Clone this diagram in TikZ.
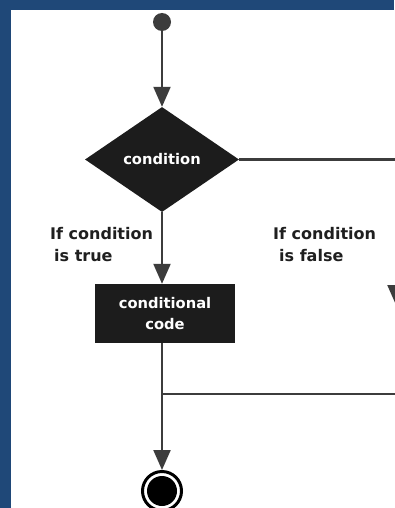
\documentclass[tikz,border=0pt]{standalone}
\usepackage{fontspec}
\setsansfont{DejaVu Sans}
\usetikzlibrary{positioning,shapes.geometric,arrows.meta}
\definecolor{frameblue}{HTML}{1F4878}
\definecolor{linegray}{HTML}{3C3C3C}
\definecolor{boxblack}{HTML}{1C1C1C}

\begin{document}
\begin{tikzpicture}[x=1pt,y=-1pt,
  flowline/.style={draw=linegray, line width=2.2pt},
  flowarrow/.style={flowline, -{Triangle[length=20pt,width=17pt]}},
  innertext/.style={text=white, align=center, font=\sffamily\bfseries\fontsize{14.7}{21}\selectfont},
  branchlabel/.style={anchor=north west, inner sep=0pt, text=black!88, align=left, font=\sffamily\bfseries\fontsize{16}{22.5}\selectfont}]
  \def\mainx{162} % x of the main line
  \def\sidex{396} % x of the false branch (cut by the page edge)
  \useasboundingbox (0,0) rectangle (394,508);
  % frame and sheet
  \fill[frameblue] (0,0) rectangle (394,508);
  \fill[white] (11,10) rectangle (394,508);
  % nodes
  \node[circle, fill=linegray, minimum size=18pt, inner sep=0pt] (start) at (\mainx,22) {};
  \node[diamond, fill=boxblack, minimum width=154pt, minimum height=105pt, inner sep=0pt, innertext] (cond) at (\mainx,159.5) {condition};
  \node[rectangle, fill=boxblack, minimum width=140pt, minimum height=59pt, innertext] (code) at (165,313.5) {conditional\\code};
  \node[circle, draw=black, line width=3pt, minimum size=39pt, inner sep=0pt,
        path picture={\fill[black] (path picture bounding box.center) circle (15pt);}] (stop) at (\mainx,491) {};
  \node[branchlabel] (truelabel) at (50,227) {If condition\\\hspace*{4pt}is true};
  \node[branchlabel] (falselabel) at (273,227) {If condition\\\hspace*{6pt}is false};
  % corners of the false branch
  \coordinate (falseturn) at (\sidex,159.5);
  \coordinate (falsetip) at (\sidex,305);
  \coordinate (falsejoin) at (\sidex,394);
  \coordinate (join) at (\mainx,394);
  % connectors
  \draw[flowarrow] (start) -- (cond);
  \draw[flowarrow] (cond.south) -- (cond.south |- code.north);
  \draw[flowline] (code.south -| start) -- (join);
  \draw[flowarrow] (join) -- (stop);
  \draw[flowarrow] (cond.east) -- (falseturn) -- (falsetip);
  \draw[flowline] (falsetip) -- (falsejoin) -- (join);
\end{tikzpicture}
\end{document}
